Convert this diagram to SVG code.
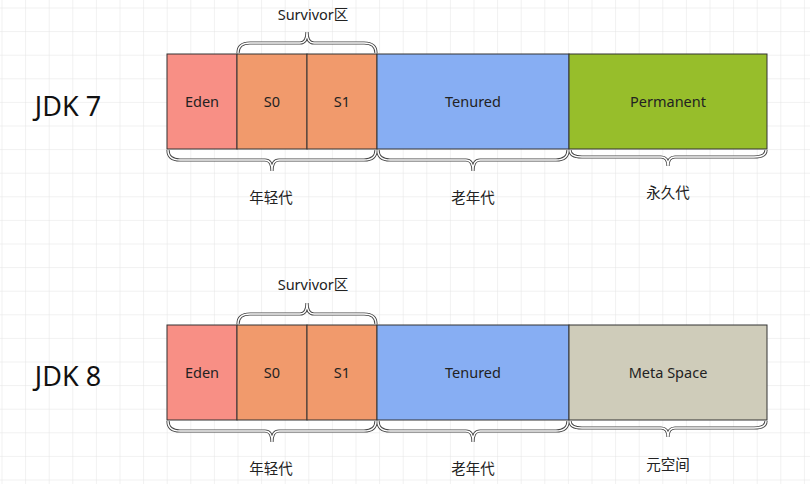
<svg xmlns="http://www.w3.org/2000/svg" width="810" height="484" viewBox="0 0 810 484">
<defs>
<pattern id="g" x="1.5" y="7.5" width="23.6" height="23.6" patternUnits="userSpaceOnUse"><path d="M0 0H23.6M0 0V23.6" fill="none" stroke="#e3e3e3" stroke-width="1"/></pattern>
<style>
.b{stroke:#333;stroke-width:1}
.t{font-family:"Noto Sans","Noto Sans CJK SC",sans-serif;font-size:14.5px;fill:#222;text-anchor:middle}
.j{font-family:"Noto Sans",sans-serif;font-size:27px;fill:#111;text-anchor:middle}
.br1{fill:none;stroke:#444;stroke-width:3.2}
.br2{fill:none;stroke:#fff;stroke-width:1.4}
</style>
<path id="p1" d="M238 53Q238 43 250 43L300 43Q307 43 307 32Q307 43 314 43L364 43Q376 43 376 53"/>
<path id="p2" d="M168 150Q168 160 180 160L265 160Q272 160 272 171Q272 160 279 160L364 160Q376 160 376 150"/>
<path id="p3" d="M378 150Q378 160 390 160L466 160Q473 160 473 171Q473 160 480 160L556 160Q568 160 568 150"/>
<path id="p4" d="M570 150Q570 157 582 157L661 157Q668 157 668 166Q668 157 675 157L754 157Q766 157 766 150"/>
<path id="p5" d="M238 324Q238 314 250 314L300 314Q307 314 307 303Q307 314 314 314L364 314Q376 314 376 324"/>
<path id="p6" d="M168 421Q168 431 180 431L265 431Q272 431 272 442Q272 431 279 431L364 431Q376 431 376 421"/>
<path id="p7" d="M378 421Q378 431 390 431L466 431Q473 431 473 442Q473 431 480 431L556 431Q568 431 568 421"/>
<path id="p8" d="M570 421Q570 428 582 428L661 428Q668 428 668 437Q668 428 675 428L754 428Q766 428 766 421"/>
</defs>
<rect width="810" height="484" fill="#fff"/>
<rect width="810" height="484" fill="url(#g)"/>
<g id="jdk7">
<text class="j" x="68" y="116">JDK 7</text>
<g id="eden7"><rect class="b" x="167" y="54" width="70" height="95" fill="#f88f85"/><text class="t" x="202" y="107">Eden</text></g>
<g id="s07"><rect class="b" x="237" y="54" width="70" height="95" fill="#f19a6c"/><text class="t" x="272" y="107">S0</text></g>
<g id="s17"><rect class="b" x="307" y="54" width="70" height="95" fill="#f19a6c"/><text class="t" x="342" y="107">S1</text></g>
<g id="ten7"><rect class="b" x="377" y="54" width="192" height="95" fill="#87aef3"/><text class="t" x="473" y="107">Tenured</text></g>
<g id="perm7"><rect class="b" x="569" y="54" width="198" height="95" fill="#97be2b"/><text class="t" x="668" y="107">Permanent</text></g>
<text class="t" x="313" y="20">Survivor区</text>
<text class="t" x="271" y="203">年轻代</text>
<text class="t" x="473" y="203">老年代</text>
<text class="t" x="668" y="198">永久代</text>
</g>
<g id="jdk8">
<text class="j" x="68" y="386">JDK 8</text>
<g id="eden8"><rect class="b" x="167" y="325" width="70" height="95" fill="#f88f85"/><text class="t" x="202" y="378">Eden</text></g>
<g id="s08"><rect class="b" x="237" y="325" width="70" height="95" fill="#f19a6c"/><text class="t" x="272" y="378">S0</text></g>
<g id="s18"><rect class="b" x="307" y="325" width="70" height="95" fill="#f19a6c"/><text class="t" x="342" y="378">S1</text></g>
<g id="ten8"><rect class="b" x="377" y="325" width="192" height="95" fill="#87aef3"/><text class="t" x="473" y="378">Tenured</text></g>
<g id="meta8"><rect class="b" x="569" y="325" width="198" height="95" fill="#cfccba"/><text class="t" x="668" y="378">Meta Space</text></g>
<text class="t" x="313" y="290">Survivor区</text>
<text class="t" x="271" y="474">年轻代</text>
<text class="t" x="473" y="474">老年代</text>
<text class="t" x="668" y="470">元空间</text>
</g>
<g id="connectors">
<g class="br1"><use href="#p1"/><use href="#p2"/><use href="#p3"/><use href="#p4"/><use href="#p5"/><use href="#p6"/><use href="#p7"/><use href="#p8"/></g>
<g class="br2"><use href="#p1"/><use href="#p2"/><use href="#p3"/><use href="#p4"/><use href="#p5"/><use href="#p6"/><use href="#p7"/><use href="#p8"/></g>
</g>
</svg>
